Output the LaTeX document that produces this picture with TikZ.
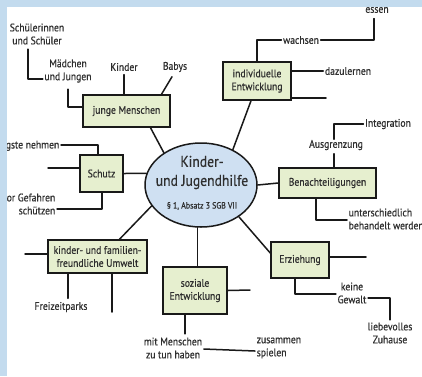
\documentclass[tikz,border=0pt]{standalone}
\usepackage{fontspec}
\setmainfont{PT Sans}[FakeStretch=0.88, FakeBold=0.5]
\usepackage{tikz}
\usetikzlibrary{shapes.geometric}
\usepackage{xcolor}
\definecolor{mapblue}{HTML}{CFE0F2}
\definecolor{mapgreen}{HTML}{E6EFCF}
\definecolor{mapframe}{HTML}{C3DBEE}
\definecolor{mapink}{HTML}{2E2E2E}
\tikzset{
  link/.style={line width=1.5pt, draw=black!90, line join=round, line cap=round},
  topicbox/.style={draw=black!90, line width=1.5pt, fill=mapgreen, inner sep=0pt,
    align=center, text=mapink, font=\fontsize{11}{13}\selectfont},
  mainell/.style={ellipse, draw=black!90, line width=1.5pt, fill=mapblue,
    minimum width=112pt, minimum height=84pt, inner sep=0pt},
  leaf/.style={inner sep=1.5pt, align=center, text=mapink,
    font=\fontsize{11}{13}\selectfont},
}
\begin{document}
\begin{tikzpicture}[x=1pt, y=-1pt]
  \clip (0,0) rectangle (422,376);
  \fill[white] (0,0) rectangle (422,376);
  % centre
  \node[mainell] (hub) at (201,185) {};
  \node[text=mapink, font=\fontsize{15.5}{19}\selectfont, align=center] (hubtitle) at (202,172.5) {Kinder-\\und Jugendhilfe};
  \node[text=mapink, font=\fontsize{9}{10}\selectfont] (hubref) at (202,206) {\S\ 1, Absatz 3 SGB VII};
  % topics
  \node[topicbox, minimum width=87pt, minimum height=32pt] (jm) at (126.5,111) {junge Menschen};
  \node[topicbox, minimum width=68pt, minimum height=38pt] (ie) at (257,81) {individuelle\\Entwicklung};
  \node[topicbox, minimum width=97pt, minimum height=30pt] (ben) at (327.5,183) {Benachteiligungen};
  \node[topicbox, minimum width=43pt, minimum height=37pt] (schutz) at (101.5,173.5) {Schutz};
  \node[topicbox, minimum width=99pt, minimum height=33pt] (umwelt) at (97.5,256.5) {kinder- und familien-\\freundliche Umwelt};
  \node[topicbox, minimum width=64pt, minimum height=47pt] (soz) at (195,290.5) {soziale\\Entwicklung};
  \node[topicbox, minimum width=58pt, minimum height=36pt] (erz) at (300,260) {Erziehung};
  % hub links
  \draw[link] ([xshift=24pt]jm.south) -- (hub.139);
  \draw[link] ([xshift=-6pt]ie.south) -- (hub.48);
  \draw[link] (hub.east) -- (ben.west);
  \draw[link] (schutz.east) -- (hub.168);
  \draw[link] ([xshift=22pt]umwelt.north) -- (hub.203);
  \draw[link] (hub.265) -- (hub.265 |- soz.north);
  \draw[link] (hub.320) -- ([yshift=7pt]erz.west);
  % junge Menschen
  \node[leaf] (schueler) at (37,34) {Schülerinnen\\und Schüler};
  \node[leaf] (maedchen) at (68,71) {Mädchen\\und Jungen};
  \node[leaf] (kinder) at (124,67) {Kinder};
  \node[leaf] (babys) at (175,67) {Babys};
  \draw[link] ([xshift=-9pt,yshift=-3pt]schueler.south) |- ([yshift=-8pt]maedchen.west);
  \draw[link] ([yshift=-5pt]maedchen.south) |- ([yshift=4pt]jm.west);
  \draw[link] ([yshift=-2pt]kinder.south) -- (kinder.south |- jm.north);
  \draw[link] ([xshift=-3pt,yshift=-3pt]babys.south) -- ([xshift=35pt]jm.north);
  % individuelle Entwicklung
  \node[leaf] (wachsen) at (301,40) {wachsen};
  \node[leaf] (essen) at (377,10) {essen};
  \node[leaf] (dazu) at (348,71) {dazulernen};
  \coordinate (iefree) at (326,98);
  \draw[link] (ie.north) |- (wachsen.west);
  \draw[link] (wachsen.east) -| ([xshift=-3pt,yshift=-4pt]essen.south);
  \draw[link] (ie.east |- dazu) -- (dazu.west);
  \draw[link] (ie.east |- iefree) -- (iefree);
  % Benachteiligungen
  \node[leaf] (integr) at (388,124) {Integration};
  \node[leaf] (ausgr) at (336,145) {Ausgrenzung};
  \node[leaf, align=left, anchor=west] (unter) at (347,219) {unterschiedlich\\behandelt werden};
  \draw[link] (integr.west) -| ([xshift=-2pt,yshift=-1pt]ausgr.north);
  \draw[link] ([xshift=-2pt,yshift=-2pt]ausgr.south) -- ([xshift=-2pt]ausgr.south |- ben.north);
  \draw[link] ([xshift=-11.5pt]ben.south) |- ([yshift=-1pt]unter.west);
  % Schutz
  \node[leaf, anchor=east] (aengste) at (61,145) {Ängste nehmen};
  \node[leaf, align=right, anchor=east] (gefahren) at (57,204) {vor Gefahren\\schützen};
  \coordinate (schutzfree) at (48,168);
  \draw[link] (aengste.east) -| ([xshift=-3.5pt]schutz.north);
  \draw[link] (schutzfree) -- (schutz.west |- schutzfree);
  \draw[link] ([xshift=0.5pt]schutz.south) |- ([yshift=-5pt]gefahren.east);
  % Umwelt
  \node[leaf] (freizeit) at (61,307) {Freizeitparks};
  \coordinate (uwleft) at (25,254);
  \coordinate (uwdown) at (112,312);
  \draw[link] (uwleft) -- (umwelt.west |- uwleft);
  \draw[link] ([xshift=-29.5pt]umwelt.south) -- ([xshift=-29.5pt,yshift=2pt]umwelt.south |- freizeit.north);
  \draw[link] (umwelt.south -| uwdown) -- (uwdown);
  % soziale Entwicklung
  \node[leaf] (mit) at (173,348) {mit Menschen\\zu tun haben};
  \node[leaf, align=left, anchor=west] (zus) at (255,348) {zusammen\\spielen};
  \coordinate (sozfree) at (250,290);
  \draw[link] (soz.east) -- (sozfree);
  \draw[link] ([xshift=-10pt]soz.south) -- ([xshift=-10pt,yshift=2pt]soz.south |- mit.north);
  \draw[link] ([yshift=-1pt]mit.east) -- ([yshift=-3pt]zus.west);
  % Erziehung
  \node[leaf] (keine) at (352,293) {keine\\Gewalt};
  \node[leaf] (liebe) at (390,333) {liebevolles\\Zuhause};
  \coordinate (erzfree) at (366,257);
  \draw[link] (erz.east |- erzfree) -- (erzfree);
  \draw[link] ([xshift=-5pt]erz.south) |- ([yshift=-1pt]keine.west);
  \draw[link] ([yshift=-5pt]keine.east) -| ([yshift=1pt]liebe.north);
  % frame strips
  \fill[mapframe] (0,0) rectangle (7,376);
  \fill[mapframe] (0,0) rectangle (422,7);
\end{tikzpicture}
\end{document}
